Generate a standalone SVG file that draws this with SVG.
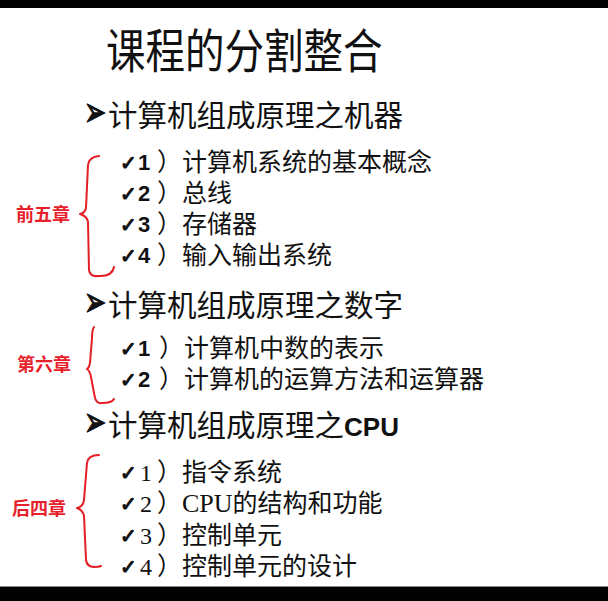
<svg xmlns="http://www.w3.org/2000/svg" width="608" height="601" viewBox="0 0 608 601">
<style>
.cjk{font-family:"Noto Sans CJK SC","Noto Sans",sans-serif;fill:#111}
.title{font-size:39.5px}
.head{font-size:29.5px}
.item{font-size:25px}
.arrow{font-family:"DejaVu Sans",sans-serif;font-size:26px;fill:#111;stroke:#111;stroke-width:0.8}
.chk{font-family:"DejaVu Sans",sans-serif;font-size:20px;stroke:#111;stroke-width:1.1}
.num{font-family:"Liberation Sans",Arial,sans-serif;font-weight:bold;font-size:22px}
.snum{font-family:"Liberation Serif","Times New Roman",serif;font-size:24px}
.lab{font-family:"Noto Sans CJK SC",sans-serif;font-weight:bold;font-size:18px;fill:#e8202a}
.brace{fill:none;stroke:#e31e24;stroke-width:2;stroke-linecap:round;stroke-linejoin:round}
</style>
<rect x="0" y="0" width="608" height="601" fill="#fff"/>
<rect x="0" y="0" width="608" height="8" fill="#000"/>
<rect x="0" y="586" width="608" height="1" fill="#888"/>
<rect x="0" y="587" width="608" height="14" fill="#000"/>

<g id="title"><text class="cjk title" transform="translate(106,68) scale(1,1.18)" x="0" y="0">课程的分割整合</text></g>

<g id="section1">
<text class="arrow" transform="translate(84,126) scale(1,1.6)" x="0" y="0">➢</text>
<text class="cjk head" x="108" y="126">计算机组成原理之机器</text>
<text class="cjk item">
<tspan class="chk" x="120" y="170">✓</tspan><tspan class="num" x="138" y="170">1</tspan><tspan x="157" y="171">）计算机系统的基本概念</tspan>
<tspan class="chk" x="120" y="201">✓</tspan><tspan class="num" x="138" y="201">2</tspan><tspan x="157" y="202">）总线</tspan>
<tspan class="chk" x="120" y="232">✓</tspan><tspan class="num" x="138" y="232">3</tspan><tspan x="157" y="233">）存储器</tspan>
<tspan class="chk" x="120" y="263">✓</tspan><tspan class="num" x="138" y="263">4</tspan><tspan x="157" y="264">）输入输出系统</tspan>
</text>
</g>

<g id="section2">
<text class="arrow" transform="translate(84,316) scale(1,1.6)" x="0" y="0">➢</text>
<text class="cjk head" x="108" y="316">计算机组成原理之数字</text>
<text class="cjk item">
<tspan class="chk" x="120" y="356">✓</tspan><tspan class="num" x="138" y="356">1</tspan><tspan x="159" y="357">）计算机中数的表示</tspan>
<tspan class="chk" x="120" y="387">✓</tspan><tspan class="num" x="138" y="387">2</tspan><tspan x="159" y="388">）计算机的运算方法和运算器</tspan>
</text>
</g>

<g id="section3">
<text class="arrow" transform="translate(84,436) scale(1,1.6)" x="0" y="0">➢</text>
<text class="cjk head" x="108" y="436">计算机组成原理之<tspan font-family="'Liberation Sans',Arial,sans-serif" font-weight="bold" font-size="26">CPU</tspan></text>
<text class="cjk item">
<tspan class="chk" x="120" y="480">✓</tspan><tspan class="snum" x="140" y="481">1</tspan><tspan x="157" y="481">）指令系统</tspan>
<tspan class="chk" x="120" y="511">✓</tspan><tspan class="snum" x="140" y="512">2</tspan><tspan x="157" y="512">）</tspan><tspan font-family="'Liberation Serif','Times New Roman',serif" font-size="26" y="512">CPU</tspan><tspan y="512">的结构和功能</tspan>
<tspan class="chk" x="120" y="543">✓</tspan><tspan class="snum" x="140" y="544">3</tspan><tspan x="157" y="544">）控制单元</tspan>
<tspan class="chk" x="120" y="574">✓</tspan><tspan class="snum" x="140" y="575">4</tspan><tspan x="157" y="575">）控制单元的设计</tspan>
</text>
</g>

<g id="labels">
<text id="label1" class="lab" x="16" y="221">前五章</text>
<text id="label2" class="lab" x="17" y="371">第六章</text>
<text id="label3" class="lab" x="12" y="515">后四章</text>
</g>

<g id="braces">
<path class="brace" d="M99,156 Q89,157 88,165 L86,208 Q85,213 80,214 Q87,216 88,222 L89,270 Q90,277 98,276 Q112,277 114,267"/>
<path class="brace" d="M94,327 Q92,330 92,338 L90,363 Q89,368 87,369 Q90,371 91,377 L95,398 Q97,404 102,403 Q112,403 114,399"/>
<path class="brace" d="M99,455 Q88,455 87,463 L84,500 Q83,507 77,508 Q83,510 84,516 L86,560 Q87,567 94,567 Q99,567 101,566"/>
</g>
</svg>
